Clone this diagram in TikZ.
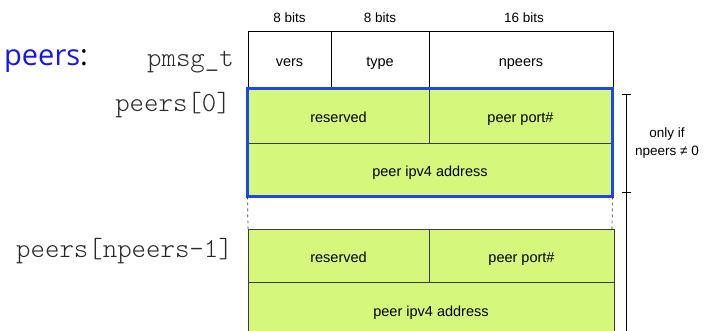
\documentclass[tikz,border=0pt]{standalone}
\usepackage{fontspec}
\setmainfont{Liberation Sans}
\newfontfamily\titlefont{Open Sans}
\newfontfamily\codefont{Latin Modern Mono Light}
\definecolor{fieldgreen}{RGB}{213,247,123}
\definecolor{frameblue}{RGB}{28,72,230}
\definecolor{titleblue}{RGB}{20,20,245}
\definecolor{rule}{RGB}{60,60,60}
\definecolor{codegray}{RGB}{40,40,40}
\tikzset{
  field/.style={draw=rule, line width=0.9pt, inner sep=0pt, text height=14pt, text depth=0pt,
    font=\fontsize{14.5}{16}\selectfont},
  hdr/.style={field, draw=black, fill=white},
  body/.style={field, fill=fieldgreen},
  bits/.style={font=\fontsize{13.5}{15}\selectfont, inner sep=0pt},
  code/.style={font=\codefont\fontsize{27.5}{30}\selectfont, text=codegray, anchor=base east, inner sep=0pt},
  guide/.style={draw=rule, dashed, line width=0.7pt},
}
\begin{document}
\begin{tikzpicture}[x=1pt,y=-1pt]
\useasboundingbox (0,0) rectangle (709,331);

% title
\node[anchor=base west, inner sep=0pt, font=\titlefont\fontsize{29}{32}\selectfont] (title) at (4,66)
  {\textcolor{titleblue}{peers}:};

% bit widths
\node[bits] (b1) at (289.5,18) {8 bits};
\node[bits] (b2) at (380,18) {8 bits};
\node[bits] (b3) at (524,18) {16 bits};

% header fields
\node[hdr, minimum width=83pt, minimum height=58pt] (vers) at (289.5,60) {vers};
\node[hdr, minimum width=98pt, minimum height=58pt] (type) at (380,60) {type};
\node[hdr, minimum width=184pt, minimum height=58pt] (np) at (521,60) {npeers};

% first peer entry
\node[body, minimum width=181pt, minimum height=54pt] (res0) at (338.5,116) {reserved};
\node[body, minimum width=183pt, minimum height=54pt] (port0) at (520.5,116) {peer port\#};
\node[body, minimum width=364pt, minimum height=53pt] (addr0) at (430,169.5) {peer ipv4 address};
\draw[frameblue, line width=2.6pt] (res0.north west) rectangle (addr0.south east);

% elided entries
\coordinate (g1) at (248,229);
\coordinate (g2) at (612,229);
\draw[guide] (addr0.south west) -- (g1);
\draw[guide] (addr0.south east) -- (g2);

% last peer entry
\node[body, minimum width=181pt, minimum height=53pt] (res1) at (338.5,255.5) {reserved};
\node[body, minimum width=185pt, minimum height=53pt] (port1) at (521.5,255.5) {peer port\#};
\node[body, minimum width=366pt, minimum height=54pt] (addr1) at (431,309) {peer ipv4 address};

% row labels
\node[code] (lbl0) at (234,67) {pmsg\_t};
\node[code] (lbl1) at (231,112) {peers[0]};
\node[code] (lbl2) at (233,257) {peers[npeers-1]};

% extent bracket
\coordinate (t1) at (626,94);
\coordinate (t2) at (626,192);
\coordinate (tb) at (626,336);
\draw[line width=0.9pt] (t1) -- (tb);
\draw[line width=0.9pt] ([xshift=-4.5pt]t1) -- ([xshift=4.5pt]t1);
\draw[line width=0.9pt] ([xshift=-4.5pt]t2) -- ([xshift=4.5pt]t2);
\node[font=\fontsize{13.5}{18.5}\selectfont, align=center, inner sep=0pt] (cond) at (667,143)
  {only if\\npeers \char"2260\ 0};
\end{tikzpicture}
\end{document}
